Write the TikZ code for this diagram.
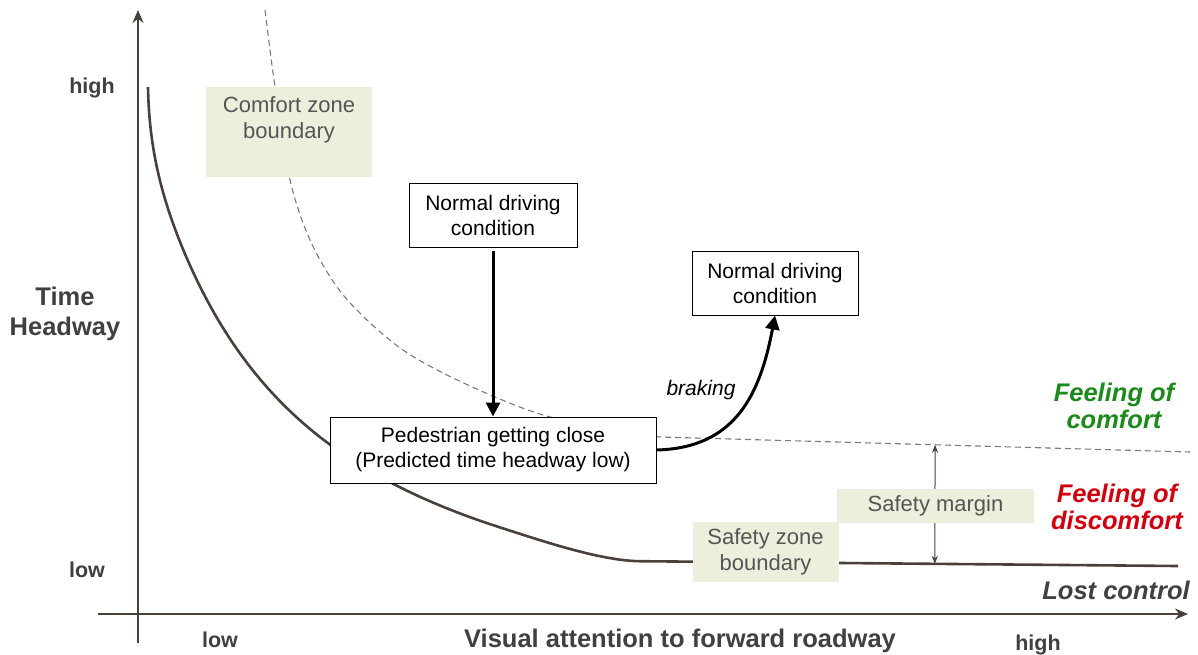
\documentclass[tikz,border=0pt]{standalone}
\usepackage{fontspec}
\setmainfont{Liberation Sans}
\usetikzlibrary{arrows.meta}
\definecolor{axisc}{HTML}{4A403B}
\definecolor{labc}{HTML}{404040}
\definecolor{zonefill}{HTML}{EDEEDC}
\definecolor{zonetext}{HTML}{555555}
\definecolor{dashc}{HTML}{7A7A7A}
\definecolor{comfortc}{HTML}{1B8A1B}
\definecolor{discomfc}{HTML}{D0000E}
\tikzset{
  axis/.style={draw=axisc, line width=2.6pt},
  zone/.style={fill=zonefill, text=zonetext, font=\fontsize{22}{26}\selectfont, align=center, inner sep=0pt},
  statebox/.style={draw=black, fill=white, line width=1pt, font=\fontsize{21}{25}\selectfont, align=center, inner sep=0pt},
  bigarrow/.style={draw=black, line width=3pt, -{Triangle[length=14pt,width=14pt]}},
  ticklab/.style={text=labc, font=\bfseries\fontsize{21.5}{24}\selectfont},
  axislab/.style={text=labc, font=\bfseries\fontsize{25.5}{30}\selectfont, align=center},
  zonelab/.style={font=\bfseries\itshape\fontsize{25.5}{27}\selectfont, align=center}
}
\begin{document}
\begin{tikzpicture}[x=1pt, y=-1pt]
\useasboundingbox (0,0) rectangle (1198,654);

% axes
\coordinate (yb) at (138,643);
\coordinate (yt) at (138,10);
\coordinate (xl) at (98,614);
\coordinate (xr) at (1188,614);
\draw[axis, -{Stealth[length=13pt,width=11pt]}] (yb) -- (yt);
\draw[axis, -{Stealth[length=13pt,width=11pt]}] (xl) -- (xr);

% axis labels
\node[ticklab] (yhigh) at (92,88) {high};
\node[ticklab] (ylow) at (87,570) {low};
\node[ticklab] (xlow) at (220,640) {low};
\node[ticklab] (xhigh) at (1038,645) {high};
\node[axislab] (ylab) at (65,314) {Time\\Headway};
\node[axislab] (xlab) at (680,641) {Visual attention to forward roadway};

% comfort zone boundary (dashed)
\draw[dashc, line width=1.1pt, dash pattern=on 6pt off 4pt]
  plot[smooth, tension=0.55] coordinates {(265,10) (275,87) (290,180) (310,240) (337,287)
    (367,320) (403,350) (443,373) (495,397) (543,415) (600,428) (660,437)}
  -- coordinate[pos=0.519] (mtop) (1190,452);

% safety zone boundary (solid): steep start, hyperbolic bend, flat tail
\draw[axisc, line width=2.6pt]
  (148,87) .. controls (149,140) and (158,189) .. (183,249.2)
  -- plot[domain=183:500, samples=90] (\x, {688-803/(\x/100)})
  .. controls (540,540.2) and (600,560.8) .. (640,561.2)
  -- coordinate[pos=0.548] (mbot) (1178,566);

% safety margin
\draw[axisc, line width=1pt, {Stealth[length=8pt,width=6pt]}-{Stealth[length=8pt,width=6pt]}] (mtop) -- (mbot);

% zone labels
\node[zone, minimum width=166pt, minimum height=90pt] (czb) at (289,132) {};
\node[zone] (czbt) at (289,120) {Comfort zone\\boundary};
\node[zone, minimum width=197pt, minimum height=34pt] (sm) at (935.5,506) {Safety margin};
\node[zone, minimum width=146pt, minimum height=60pt] (szb) at (765.5,552) {Safety zone\\boundary};

% driving states
\node[statebox, minimum width=168pt, minimum height=64pt] (nd1) at (493,215) {Normal driving\\condition};
\node[statebox, minimum width=166pt, minimum height=64pt] (nd2) at (775,283) {Normal driving\\condition};
\node[statebox, minimum width=326pt, minimum height=66pt] (ped) at (493,450) {Pedestrian getting close\\(Predicted time headway low)};

\draw[bigarrow] ([yshift=-3pt]nd1.south) -- (ped.north);
\draw[bigarrow] (ped.east) .. controls (735,448) and (760,395) .. (nd2.south);
\node[font=\itshape\fontsize{21}{24}\selectfont] (brk) at (701,390) {braking};

% region labels
\node[zonelab, text=comfortc] (comf) at (1114,406) {Feeling of\\comfort};
\node[zonelab, text=discomfc] (disc) at (1117,507) {Feeling of\\discomfort};
\node[zonelab, text=labc] (lost) at (1116,590) {Lost control};
\end{tikzpicture}
\end{document}
